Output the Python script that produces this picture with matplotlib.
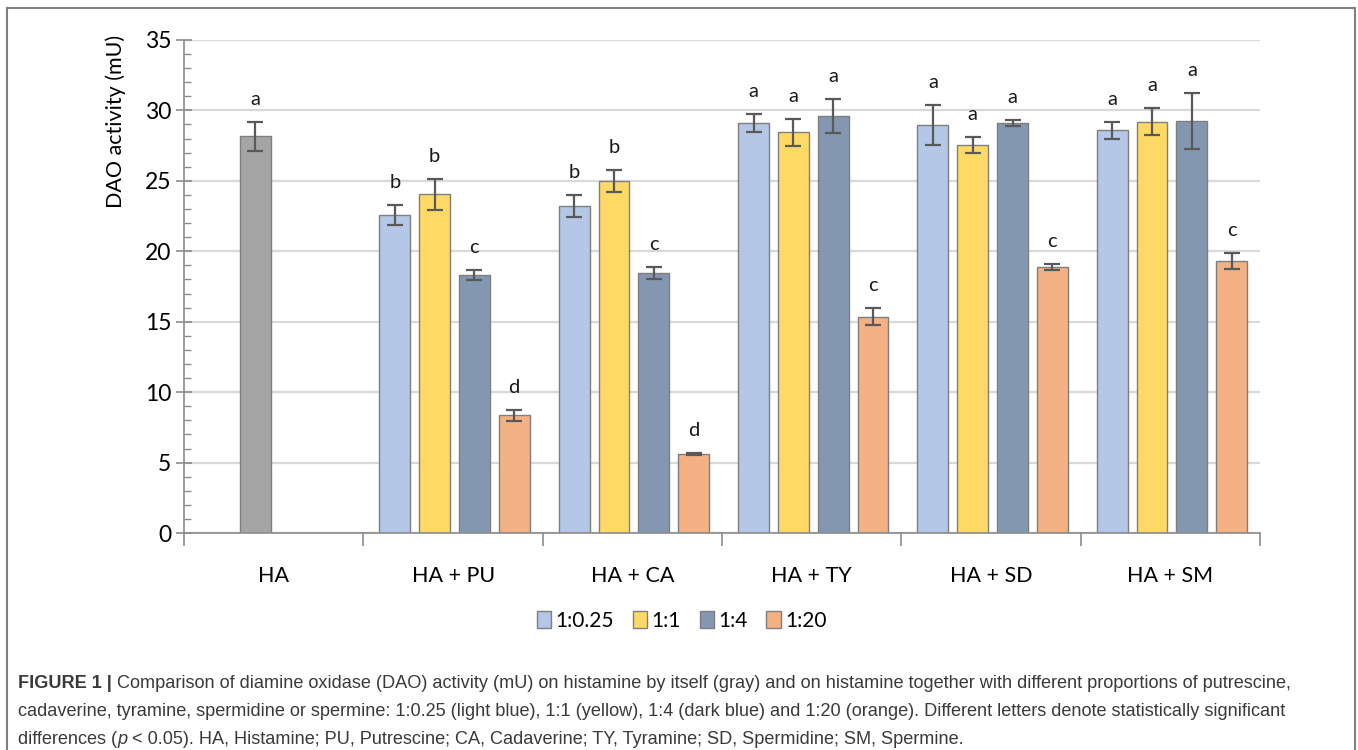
import matplotlib
matplotlib.use("Agg")
import matplotlib.pyplot as plt
import numpy as np
from matplotlib.patches import Patch, Rectangle

# data
groups = ["HA", "HA + PU", "HA + CA", "HA + TY", "HA + SD", "HA + SM"]
ratios = ["1:0.25", "1:1", "1:4", "1:20"]

ha_value = 28.15
ha_err = 1.0
ha_letter = "a"

# one row per ratio, columns = HA+PU .. HA+SM
means = [
    [22.6, 23.2, 29.1, 28.95, 28.6],
    [24.05, 25.0, 28.45, 27.55, 29.2],
    [18.3, 18.45, 29.6, 29.1, 29.25],
    [8.35, 5.62, 15.35, 18.9, 19.3],
]
errs = [
    [0.7, 0.8, 0.65, 1.4, 0.6],
    [1.1, 0.8, 0.95, 0.55, 0.95],
    [0.35, 0.4, 1.2, 0.2, 2.0],
    [0.4, 0.05, 0.6, 0.2, 0.55],
]
letters = [
    ["b", "b", "a", "a", "a"],
    ["b", "b", "a", "a", "a"],
    ["c", "c", "a", "a", "a"],
    ["d", "d", "c", "c", "c"],
]

colors = ["#B4C7E7", "#FFD966", "#8497B0", "#F4B183"]
gray = "#A5A5A5"
edge = "#7F7F7F"
ecol = "#595959"

caption_head = "FIGURE 1 |"
caption_lines = [
    " Comparison of diamine oxidase (DAO) activity (mU) on histamine by itself (gray) and on histamine together with different proportions of putrescine,",
    "cadaverine, tyramine, spermidine or spermine: 1:0.25 (light blue), 1:1 (yellow), 1:4 (dark blue) and 1:20 (orange). Different letters denote statistically significant",
    "differences (",
]

plt.rcParams['font.family'] = ['Lato', 'DejaVu Sans']

fig = plt.figure(figsize=(13.58, 7.5), dpi=100)
ax = fig.add_axes([0.1355, 0.2893, 0.7925, 0.6574])

slot = 0.222
bw = 0.172
offs = (np.arange(4) - 1.5) * slot + 0.008
label_gap = 1.6

# HA alone (gray, sits in the second slot)
xh = 0 + offs[1]
ax.bar(xh, ha_value, bw, color=gray, edgecolor=edge, linewidth=1, zorder=3)
ax.errorbar(xh, ha_value, yerr=ha_err, fmt='none', ecolor=ecol, elinewidth=1.6,
            capsize=6, capthick=1.6, zorder=4)
ax.text(xh, ha_value + ha_err + label_gap, ha_letter, ha='center', va='center',
        fontsize=14.5, color='#1a1a1a')

xs = np.arange(1, len(groups))
for i in range(4):
    x = xs + offs[i]
    ax.bar(x, means[i], bw, color=colors[i], edgecolor=edge, linewidth=1, zorder=3)
    ax.errorbar(x, means[i], yerr=errs[i], fmt='none', ecolor=ecol, elinewidth=1.6,
                capsize=6, capthick=1.6, zorder=4)
    for j in range(len(xs)):
        ax.text(x[j], means[i][j] + errs[i][j] + label_gap, letters[i][j],
                ha='center', va='center', fontsize=14.5, color='#1a1a1a')

ax.set_xlim(-0.5, len(groups) - 0.5)
ax.set_ylim(0, 35)
ax.set_yticks(np.arange(0, 36, 5))
ax.set_yticks(np.arange(0, 36, 1), minor=True)
ax.yaxis.grid(True, color='#D9D9D9', linewidth=1.6, zorder=0)
ax.set_axisbelow(True)
ax.tick_params(axis='y', which='major', direction='inout', length=12, width=1.2,
               color='#8C8C8C', labelsize=16.5, pad=3)
ax.tick_params(axis='y', which='minor', direction='in', length=5, width=1.0,
               color='#8C8C8C')

ax.set_xticks(np.arange(len(groups)))
ax.set_xticklabels(groups)
ax.set_xticks(np.arange(-0.5, len(groups), 1), minor=True)
ax.tick_params(axis='x', which='major', length=0, labelsize=15.5, pad=24)
ax.tick_params(axis='x', which='minor', direction='out', length=9, width=1.2,
               color='#8C8C8C')

for s in ['top', 'right']:
    ax.spines[s].set_visible(False)
for s in ['left', 'bottom']:
    ax.spines[s].set_color('#8C8C8C')
    ax.spines[s].set_linewidth(1.2)
ax.spines['bottom'].set_zorder(5)

ax.set_ylabel("DAO activity (mU)", fontsize=15.5, labelpad=12)
ax.yaxis.set_label_coords(-0.054, 0.834)

handles = [Patch(facecolor=c, edgecolor=edge, linewidth=1) for c in colors]
fig.legend(handles, ratios, loc='center', bbox_to_anchor=(0.502, 0.172), ncol=4,
           frameon=False, fontsize=15, handlelength=0.7, handleheight=0.9,
           handletextpad=0.2, columnspacing=0.9)

# frame around the figure panel
fig.patches.append(Rectangle((0.0055, -0.01), 0.9925, 0.999, transform=fig.transFigure,
                             fill=False, edgecolor='#808080', linewidth=1.5))

# caption
cap_font = ['Liberation Sans Narrow', 'Liberation Sans', 'DejaVu Sans']
cap_size = 13.1
cap_color = '#3a3a3a'
y1 = 1 - 683 / 750
y2 = 1 - 712 / 750
y3 = 1 - 740 / 750
x0 = 18 / 1358

t0 = fig.text(x0, y1, caption_head, family=cap_font, fontsize=cap_size,
              fontweight='bold', color=cap_color, va='center')
fig.canvas.draw()
r = fig.canvas.get_renderer()
w0 = t0.get_window_extent(r).width / fig.bbox.width
fig.text(x0 + w0, y1, caption_lines[0], family=cap_font, fontsize=cap_size,
         color=cap_color, va='center')
fig.text(x0, y2, caption_lines[1], family=cap_font, fontsize=cap_size,
         color=cap_color, va='center')
t3 = fig.text(x0, y3, caption_lines[2], family=cap_font, fontsize=cap_size,
              color=cap_color, va='center')
fig.canvas.draw()
w3 = t3.get_window_extent(r).width / fig.bbox.width
t4 = fig.text(x0 + w3, y3, "p", family=cap_font, fontsize=cap_size, style='italic',
              color=cap_color, va='center')
fig.canvas.draw()
w4 = t4.get_window_extent(r).width / fig.bbox.width
fig.text(x0 + w3 + w4, y3,
         " < 0.05). HA, Histamine; PU, Putrescine; CA, Cadaverine; TY, Tyramine; SD, Spermidine; SM, Spermine.",
         family=cap_font, fontsize=cap_size, color=cap_color, va='center')

fig.savefig("out.png", dpi=100)
